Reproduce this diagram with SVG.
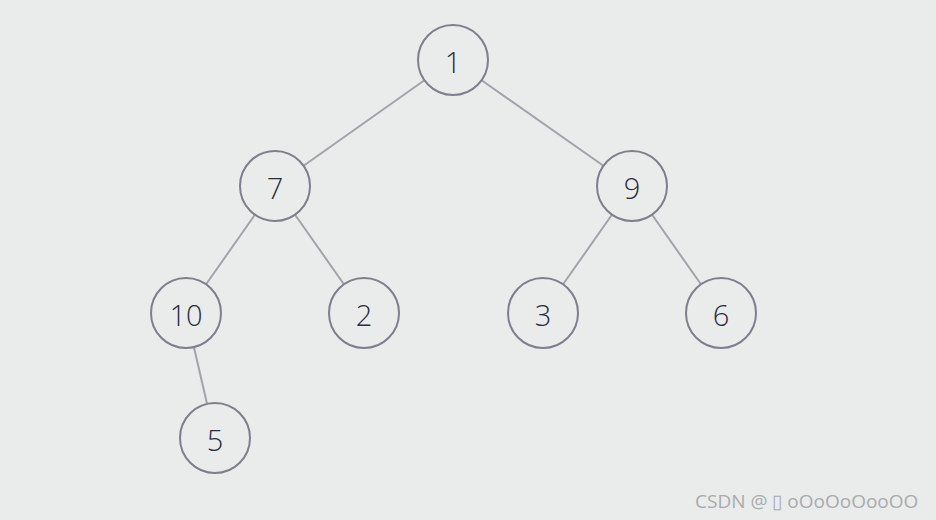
<svg xmlns="http://www.w3.org/2000/svg" width="936" height="520" viewBox="0 0 936 520">
<style>
.edge{stroke:#a2a4a9;stroke-width:2;fill:none}
.node circle{fill:#eaebeb;stroke:#7d7f8a;stroke-width:2}
.node text{font-family:"Open Sans","Noto Sans",sans-serif;font-weight:300;font-size:29px;fill:#2b2e3b;text-anchor:middle;dominant-baseline:central}
.wm{font-family:"Open Sans","Noto Sans",sans-serif;font-size:19px;fill:#a9abad}
</style>
<rect width="936" height="520" fill="#eaebeb"/>
<g id="connectors">
<line class="edge" x1="424.4" y1="80.2" x2="303.6" y2="165.8"/>
<line class="edge" x1="481.6" y1="80.2" x2="603.4" y2="165.8"/>
<line class="edge" x1="254.9" y1="214.7" x2="206.1" y2="284.3"/>
<line class="edge" x1="295.1" y1="214.7" x2="343.9" y2="284.3"/>
<line class="edge" x1="611.9" y1="214.7" x2="563.1" y2="284.3"/>
<line class="edge" x1="652.1" y1="214.7" x2="700.9" y2="284.3"/>
<line class="edge" x1="193.9" y1="347.1" x2="207.1" y2="403.9"/>
</g>
<g id="n1" class="node"><circle cx="453" cy="60" r="35"/><text x="453" y="61">1</text></g>
<g id="n7" class="node"><circle cx="275" cy="186" r="35"/><text x="275" y="187">7</text></g>
<g id="n9" class="node"><circle cx="632" cy="186" r="35"/><text x="632" y="187">9</text></g>
<g id="n10" class="node"><circle cx="186" cy="313" r="35"/><text x="186" y="314">10</text></g>
<g id="n2" class="node"><circle cx="364" cy="313" r="35"/><text x="364" y="314">2</text></g>
<g id="n3" class="node"><circle cx="543" cy="313" r="35"/><text x="543" y="314">3</text></g>
<g id="n6" class="node"><circle cx="721" cy="313" r="35"/><text x="721" y="314">6</text></g>
<g id="n5" class="node"><circle cx="215" cy="438" r="35"/><text x="215" y="439">5</text></g>
<text class="wm" x="695" y="508">CSDN @ ▯ oOoOoOooOO</text>
</svg>
